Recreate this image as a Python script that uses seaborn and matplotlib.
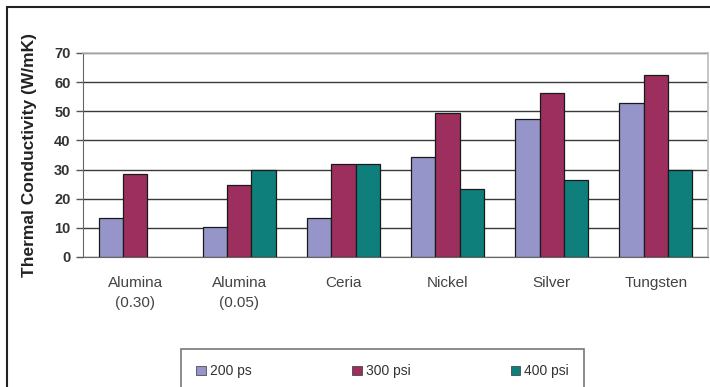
import numpy as np
import pandas as pd
import matplotlib
matplotlib.use("Agg")
import matplotlib.pyplot as plt
from matplotlib.lines import Line2D
from matplotlib.patches import Patch
import seaborn as sns

categories = ["Alumina\n(0.30)", "Alumina\n(0.05)", "Ceria", "Nickel", "Silver", "Tungsten"]
series_names = ["200 ps", "300 psi", "400 psi"]
vals_200 = [13.4, 10.4, 13.3, 34.4, 47.5, 52.8]
vals_300 = [28.6, 24.6, 31.8, 49.5, 56.3, 62.6]
vals_400 = [np.nan, 29.9, 31.8, 23.3, 26.4, 29.9]
y_ticks = [0, 10, 20, 30, 40, 50, 60, 70]
colors = ["#9595C9", "#9C2F5E", "#0E7F7A"]

rows = []
for name, vals in zip(series_names, [vals_200, vals_300, vals_400]):
    for c, v in zip(categories, vals):
        rows.append({"cat": c, "series": name, "val": v})
df = pd.DataFrame(rows)

sns.set_style("white")
plt.rcParams["font.family"] = ["Liberation Sans", "DejaVu Sans"]

fig = plt.figure(figsize=(7.10, 3.87), dpi=100)
ax = fig.add_axes([83/710, 130/387, 625/710, 204/387])

sns.barplot(data=df, x="cat", y="val", hue="series", order=categories,
            hue_order=series_names, palette=colors, width=0.7,
            edgecolor="#1a1a1a", linewidth=0.9, saturation=1, ax=ax, legend=False, zorder=3)

ax.set_ylim(0, 70)
ax.set_xlim(-0.5, len(categories) - 0.5)
ax.set_yticks(y_ticks)
ax.set_yticklabels([str(t) for t in y_ticks], fontsize=10.5, color="#333333", fontweight="bold")
ax.yaxis.grid(True, color="#3a3a3a", linewidth=1.0, zorder=0)
ax.set_axisbelow(True)

ax.set_xticks(range(len(categories)))
ax.set_xticklabels(categories, fontsize=11, color="#444444", linespacing=1.5)
ax.tick_params(axis="x", which="major", length=0, pad=14)
ax.set_xticks(np.arange(-0.5, len(categories), 1.0), minor=True)
ax.tick_params(axis="x", which="minor", length=5, color="#555555", width=1)
ax.tick_params(axis="y", length=5, color="#555555", width=1, pad=4, left=True)

ax.set_xlabel("")
ax.set_ylabel("Thermal Conductivity (W/mK)", fontsize=12.5, fontweight="bold",
              color="#222222", labelpad=12)

for side in ["top", "right"]:
    ax.spines[side].set_color("#bbbbbb")
    ax.spines[side].set_linewidth(1.2)
ax.spines["left"].set_color("#666666")
ax.spines["bottom"].set_color("#666666")

# figure border (left and top visible)
fig.add_artist(Line2D([7/710, 7/710], [0, 1 - 7/387], transform=fig.transFigure, color="#222222", lw=1.5))
fig.add_artist(Line2D([7/710, 1], [1 - 7/387, 1 - 7/387], transform=fig.transFigure, color="#222222", lw=1.5))

handles = [Patch(facecolor=c, edgecolor="#333333", linewidth=0.5) for c in colors]
leg = fig.legend(handles, series_names, ncol=3, loc="upper left",
                 bbox_to_anchor=(181/710, 1 - 349/387), frameon=True, fancybox=False,
                 fontsize=10, handlelength=0.7, handleheight=0.7, handletextpad=0.3,
                 columnspacing=7.2, borderpad=1.1, borderaxespad=0)
leg.get_frame().set_edgecolor("#555555")
leg.get_frame().set_linewidth(1.2)
for t in leg.get_texts():
    t.set_color("#333333")

fig.savefig("out.png", dpi=100)
